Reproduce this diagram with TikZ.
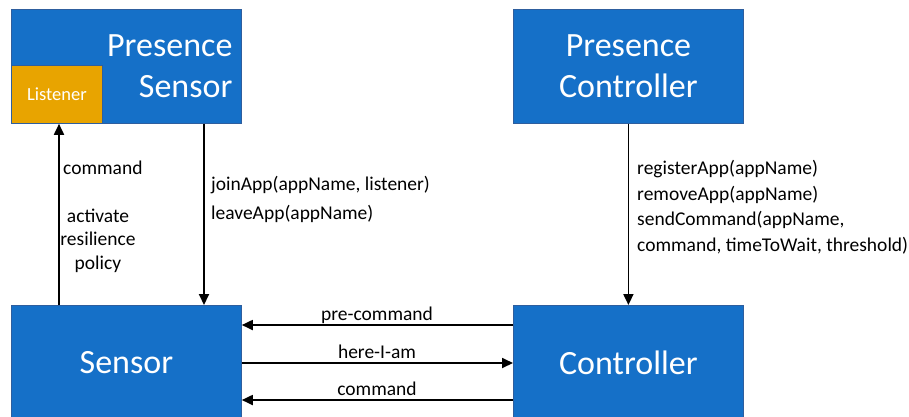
\documentclass[tikz,border=0pt]{standalone}
\usepackage{fontspec}
\setmainfont{Carlito}
\usetikzlibrary{arrows.meta}
\definecolor{boxblue}{HTML}{1570C8}
\definecolor{boxedge}{HTML}{2E5E9E}
\definecolor{listenerorange}{HTML}{E8A400}
\tikzset{
  block/.style={draw=boxedge, line width=0.8pt, fill=boxblue, text=white,
    minimum width=230pt, minimum height=114pt, inner sep=0pt, anchor=north west,
    font=\fontsize{34}{41}\selectfont, align=center},
  msg/.style={line width=1.8pt, -{Triangle[length=11pt,width=10pt]}},
  lbl/.style={font=\fontsize{19.5}{25.5}\selectfont, inner sep=0pt, align=left, anchor=base west},
}
\begin{document}
\begin{tikzpicture}[x=1pt,y=-1pt]
  \useasboundingbox (0,0) rectangle (909,416);
  % upper components
  \node[block, align=right, text width=212pt, inner xsep=0pt] (psensor) at (11,9) {Presence\\Sensor};
  \node[draw=boxedge, line width=0.8pt, fill=listenerorange, text=white, anchor=north west,
    minimum width=91pt, minimum height=58pt, inner sep=0pt,
    font=\fontsize{18.5}{20}\selectfont] (listener) at (11,65) {Listener};
  \node[block] (pcontroller) at (513,9) {Presence\\Controller};
  % lower components
  \node[block, minimum height=115pt] (sensor) at (11,305) {Sensor};
  \node[block, minimum height=115pt] (controller) at (513,305) {Controller};
  % vertical connectors
  \draw[msg] (sensor.north -| 59,0) coordinate (cu) -- (cu |- listener.south);
  \draw[msg] (psensor.south -| 204,0) coordinate (jd) -- (jd |- sensor.north);
  \draw[msg] (pcontroller.south) -- (controller.north);
  % horizontal connectors
  \draw[msg] (controller.west |- 0,325) coordinate (pc) -- (pc -| sensor.east);
  \draw[msg] (sensor.east |- 0,363) coordinate (hi) -- (hi -| controller.west);
  \draw[msg] (controller.west |- 0,400) coordinate (cm) -- (cm -| sensor.east);
  % labels (a multi-line node sits on the baseline of its last line)
  \node[lbl] (lcmd) at (63,174) {command};
  \node[lbl, align=center, anchor=base, font=\fontsize{19.5}{23.5}\selectfont] (lres) at (98,269) {activate\\resilience\\policy};
  \node[lbl, font=\fontsize{19.5}{29}\selectfont] (ljoin) at (211,219) {joinApp(appName, listener)\\leaveApp(appName)};
  \node[lbl] (lreg) at (637,251) {registerApp(appName)\\removeApp(appName)\\sendCommand(appName,\\command, timeToWait, threshold)};
  \node[lbl, anchor=base] (lpre) at (377,320) {pre-command};
  \node[lbl, anchor=base] (lhere) at (377,358) {here-I-am};
  \node[lbl, anchor=base] (lcm) at (377,395) {command};
\end{tikzpicture}
\end{document}
